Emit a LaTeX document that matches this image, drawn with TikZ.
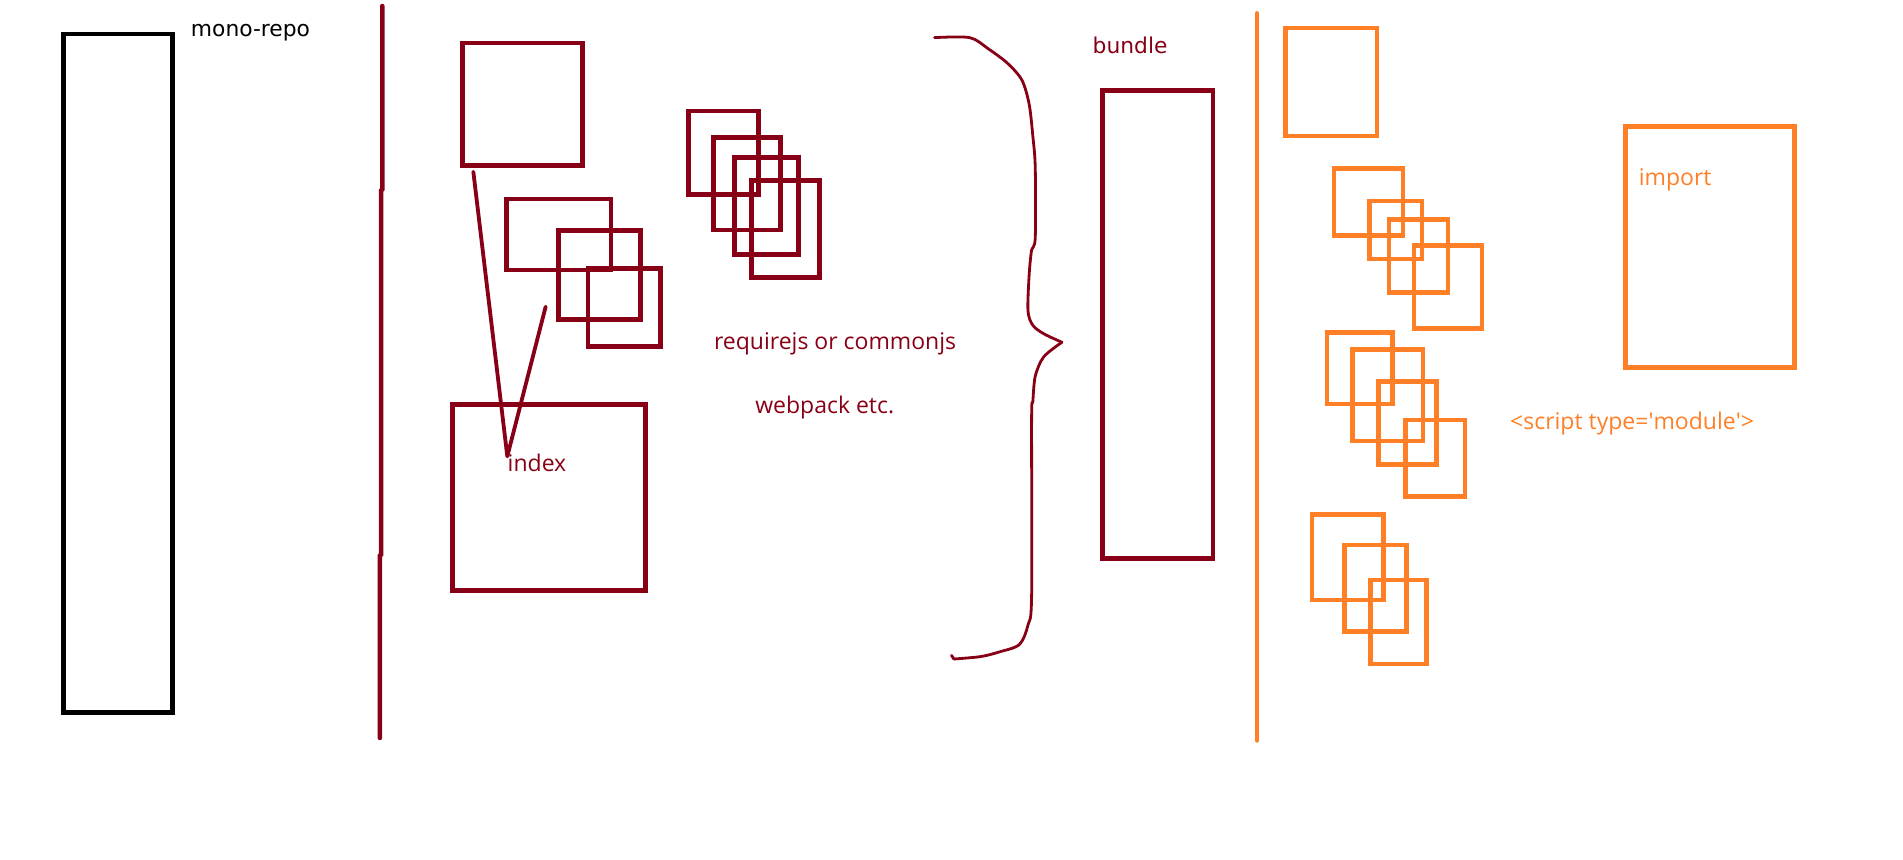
\documentclass[tikz,border=0pt]{standalone}
\usepackage{fontspec}
\setmainfont{Open Sans}
\newfontfamily\widesans{DejaVu Sans}
\usepackage{xcolor}
\definecolor{bundlered}{RGB}{136, 0, 21}
\definecolor{moduleorange}{RGB}{255, 127, 39}
\usepackage{tikz}
\usetikzlibrary{positioning}

\tikzset{
    blackbox/.style={draw=black, line width=2.4pt},
    redbox/.style={draw=bundlered, line width=2.4pt},
    orangebox/.style={draw=moduleorange, line width=2.3pt},
    divider/.style={line width=2.3pt, line cap=round},
    sketchline/.style={draw=bundlered, line width=1.9pt, line join=round, line cap=round},
    bracestroke/.style={draw=bundlered, line width=1.4pt, line join=round, line cap=round},
    caption/.style={inner sep=0pt, anchor=base west, font=\fontsize{11.5}{13}\selectfont},
    widecaption/.style={inner sep=0pt, anchor=base west, font=\widesans\fontsize{10.9}{13}\selectfont}
}

\begin{document}
\begin{tikzpicture}[x=0.60684pt, y=-0.60684pt]
    \useasboundingbox (0,0) rectangle (1568,708.6);

    % mono-repo
    \draw[blackbox] (52,28) rectangle (142,587);
    \node[widecaption] (monorepo) at (157,30) {mono-repo};

    \draw[divider, bundlered] (315,5) -- (315,156) -- (314,157) -- (314,457) -- (313,458) -- (313,608);

    % source files
    \draw[redbox] (381,35.5) rectangle (480,136.5);
    \draw[redbox] (417.5,164) rectangle (503.5,222.5);
    \draw[redbox] (460.5,190) rectangle (527.5,263);
    \draw[redbox] (484.5,221.5) rectangle (544,285.5);
    \draw[redbox] (567.5,91.5) rectangle (625,160.5);
    \draw[redbox] (588,113) rectangle (643,189.5);
    \draw[redbox] (605.5,130) rectangle (658,209.5);
    \draw[redbox] (619,149) rectangle (675.5,228.5);
    \draw[redbox] (373,333) rectangle (532,486.5);
    \node[caption, text=bundlered] (index) at (418,388.6) {index};

    \coordinate (entryfoot) at (390,141.5);
    \coordinate (chunkfoot) at (449.6,252.7);
    \coordinate (tip) at (418,376);
    \draw[sketchline] (entryfoot) -- (tip) -- (chunkfoot);

    \node[caption, text=bundlered] (loaders) at (588,287.7) {requirejs or commonjs};
    \node[caption, text=bundlered] (webpack) at (622,341) {webpack etc.};

    % hand drawn brace
    \coordinate (bracetip) at (875,282);
    \draw[bracestroke] plot[smooth, tension=0.5] coordinates {(770,31) (799,31) (814,40) (830,52)
        (842,66) (848,86) (851,112) (853,138) (853,196) (850,206) (848,226) (847,256)
        (851,268) (860,275) (875,282)};
    \draw[bracestroke] plot[smooth, tension=0.5] coordinates {(875,282) (860,294) (853,310)
        (851,331) (850,345) (850,491) (847,515) (840,531) (824,537) (808,541) (786,543)};
    \draw[bracestroke] (786,543) -- (784,540);

    % bundle
    \node[widecaption, text=bundlered] (bundlelabel) at (900,44) {bundle};
    \draw[redbox] (908.5,74.5) rectangle (999.5,460.5);

    \draw[divider, moduleorange] (1035.7,11) -- (1035.7,610);

    % es modules
    \draw[orangebox] (1059,23) rectangle (1134.5,112);
    \draw[orangebox] (1099,139) rectangle (1156,194);
    \draw[orangebox] (1128.5,165.5) rectangle (1171.5,213.5);
    \draw[orangebox] (1144.5,181) rectangle (1193,241);
    \draw[orangebox] (1165,202.5) rectangle (1221,270.5);
    \draw[orangebox] (1093.5,274) rectangle (1147.5,333);
    \draw[orangebox] (1114.5,288) rectangle (1172.5,363.5);
    \draw[orangebox] (1136,314.5) rectangle (1183.5,382.5);
    \draw[orangebox] (1158,346) rectangle (1207,409);
    \draw[orangebox] (1081,424) rectangle (1140,494.5);
    \draw[orangebox] (1108,449) rectangle (1159,520.5);
    \draw[orangebox] (1129,478) rectangle (1175.5,547);

    \draw[orangebox] (1339.5,104) rectangle (1478.5,303);
    \node[caption, text=moduleorange] (importlabel) at (1350,152.5) {import};
    \node[caption, text=moduleorange] (scripttag) at (1244,354) {<script type=\textquotesingle module\textquotesingle>};
\end{tikzpicture}
\end{document}
